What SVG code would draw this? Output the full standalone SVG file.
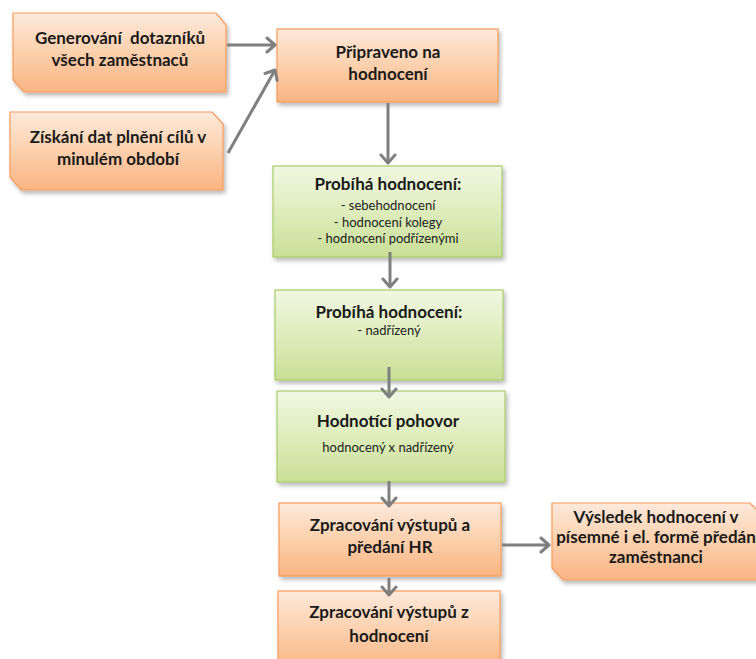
<svg xmlns="http://www.w3.org/2000/svg" width="756" height="659" viewBox="0 0 756 659">
  <defs>
    <linearGradient id="gOrange" x1="0" y1="0" x2="0" y2="1">
      <stop offset="0" stop-color="#fde9db"/>
      <stop offset="0.45" stop-color="#fcd3b1"/>
      <stop offset="1" stop-color="#f9b482"/>
    </linearGradient>
    <linearGradient id="gGreen" x1="0" y1="0" x2="0" y2="1">
      <stop offset="0" stop-color="#f1f7e2"/>
      <stop offset="0.45" stop-color="#e0eec0"/>
      <stop offset="1" stop-color="#c9df97"/>
    </linearGradient>
    <filter id="shadow" x="-10%" y="-10%" width="125%" height="130%">
      <feDropShadow dx="2" dy="3" stdDeviation="2" flood-color="#000" flood-opacity="0.28"/>
    </filter>
    <marker id="arrow" markerWidth="14" markerHeight="18" refX="10" refY="9" orient="auto" markerUnits="userSpaceOnUse">
      <path d="M2,2 L10,9 L2,16" fill="none" stroke="#7f7f7f" stroke-width="3" stroke-linecap="round" stroke-linejoin="round"/>
    </marker>
  </defs>
  <style>
    .orange { fill: url(#gOrange); stroke: #f79b5a; stroke-width: 1.2; filter: url(#shadow); }
    .green { fill: url(#gGreen); stroke: #a9cc6a; stroke-width: 1.2; filter: url(#shadow); }
    .title { font-family: Lato, "Liberation Sans", sans-serif; font-weight: bold; font-size: 17px; fill: #1a1a1a; text-anchor: middle; }
    .sub { font-family: Lato, "Liberation Sans", sans-serif; font-size: 13px; fill: #222; text-anchor: middle; }
    .conn { fill: none; stroke: #7f7f7f; stroke-width: 3; marker-end: url(#arrow); }
  </style>

  <rect width="756" height="659" fill="#ffffff"/>

  <g id="generovani">
    <path class="orange" d="M13,13 H216 L226,25 V92 H24 L13,80 Z"/>
    <text class="title" x="120" y="44" xml:space="preserve">Generování  dotazníků</text>
    <text class="title" x="120" y="66">všech zaměstnaců</text>
  </g>

  <g id="ziskani">
    <path class="orange" d="M10,112 H212 L223,124 V190 H21 L10,177 Z"/>
    <text class="title" x="118" y="143">Získání dat plnění cílů v</text>
    <text class="title" x="118" y="165">minulém období</text>
  </g>

  <g id="pripraveno">
    <rect class="orange" x="277" y="29" width="221" height="73"/>
    <text class="title" x="388" y="58">Připraveno na</text>
    <text class="title" x="388" y="80">hodnocení</text>
  </g>

  <g id="probiha1">
    <rect class="green" x="273" y="166" width="229" height="91"/>
    <text class="title" x="388" y="190">Probíhá hodnocení:</text>
    <text class="sub" x="388" y="210">- sebehodnocení</text>
    <text class="sub" x="388" y="227">- hodnocení kolegy</text>
    <text class="sub" x="388" y="243">- hodnocení podřízenými</text>
  </g>

  <g id="probiha2">
    <rect class="green" x="275" y="290" width="228" height="90"/>
    <text class="title" x="389" y="318">Probíhá hodnocení:</text>
    <text class="sub" x="389" y="335">- nadřízený</text>
  </g>

  <g id="pohovor">
    <rect class="green" x="277" y="391" width="228" height="91"/>
    <text class="title" x="388" y="427">Hodnotící pohovor</text>
    <text class="sub" x="388" y="452">hodnocený x nadřízený</text>
  </g>

  <g id="zpracovani-hr">
    <rect class="orange" x="279" y="503" width="222" height="73"/>
    <text class="title" x="390" y="531">Zpracování výstupů a</text>
    <text class="title" x="390" y="553">předání HR</text>
  </g>

  <g id="zpracovani-hodnoceni">
    <rect class="orange" x="278" y="591" width="222" height="80"/>
    <text class="title" x="389" y="618">Zpracování výstupů z</text>
    <text class="title" x="389" y="642">hodnocení</text>
  </g>

  <g id="vysledek">
    <path class="orange" d="M552,503 H750 L762,515 V580 H563 L552,568 Z"/>
    <text class="title" x="656" y="523">Výsledek hodnocení v</text>
    <text class="title" x="656" y="543">písemné i el. formě předán</text>
    <text class="title" x="656" y="563">zaměstnanci</text>
  </g>

  <!-- connectors, drawn over the box edges -->
  <g id="connectors">
    <line class="conn" x1="227" y1="45" x2="275" y2="45"/>
    <line class="conn" x1="228" y1="153" x2="275" y2="70"/>
    <line class="conn" x1="388" y1="103" x2="388" y2="163"/>
    <line class="conn" x1="390" y1="252" x2="390" y2="287"/>
    <line class="conn" x1="389" y1="367" x2="389" y2="397"/>
    <line class="conn" x1="389" y1="481" x2="389" y2="506"/>
    <line class="conn" x1="389" y1="578" x2="389" y2="595"/>
    <line class="conn" x1="502" y1="545" x2="549" y2="545"/>
  </g>
</svg>
